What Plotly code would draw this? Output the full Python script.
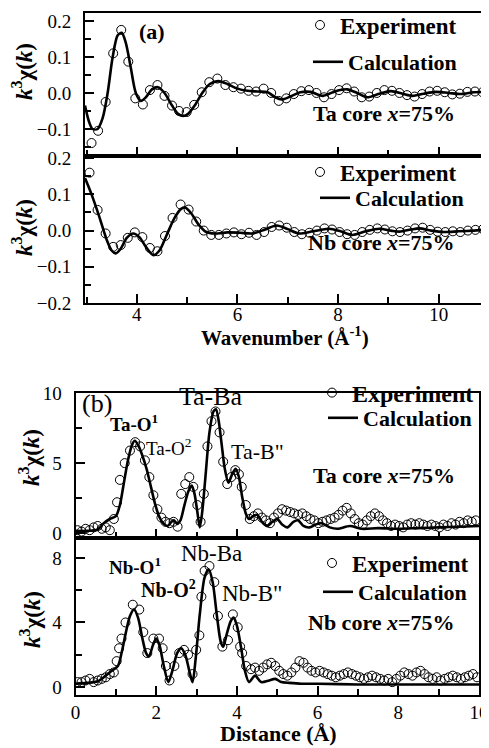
import plotly.graph_objects as go

# %% panel (a): k^3 chi(k), Ta core (top) and Nb core (bottom)
k_exp_ta = [3.10, 3.23, 3.38, 3.53, 3.69, 3.83, 3.97, 4.12, 4.26, 4.41, 4.55, 4.70, 4.84, 4.99,
            5.14, 5.29, 5.44, 5.60, 5.76, 5.92, 6.07, 6.22, 6.37, 6.52, 6.67, 6.82, 6.97, 7.12,
            7.27, 7.42, 7.57, 7.72, 7.87, 8.02, 8.17, 8.32, 8.47, 8.62, 8.77, 8.92, 9.07, 9.22,
            9.37, 9.52, 9.67, 9.82, 9.97, 10.12, 10.27, 10.42, 10.57, 10.72, 10.87]
chi_exp_ta = [-0.139, -0.105, -0.025, 0.11, 0.175, 0.087, -0.015, -0.032, 0.008, 0.022, -0.008,
              -0.035, -0.05, -0.053, -0.033, 0.002, 0.03, 0.04, 0.022, 0.016, 0.012, 0.006, 0.004,
              0.012, 0.0, -0.022, -0.015, -0.003, 0.005, 0.008, 0.0, -0.012, -0.003, 0.008, 0.013,
              0.004, -0.012, -0.01, 0.0, 0.008, 0.006, 0.0, -0.006, -0.01, -0.003, 0.004, 0.006,
              0.002, -0.004, -0.002, 0.003, 0.004, 0.002]
k_calc_ta = [2.97, 3.05, 3.12, 3.22, 3.32, 3.42, 3.52, 3.62, 3.70, 3.78, 3.88, 3.98, 4.08, 4.18,
             4.30, 4.42, 4.55, 4.70, 4.82, 4.92, 5.02, 5.15, 5.30, 5.45, 5.62, 5.80, 6.00, 6.20,
             6.40, 6.60, 6.75, 6.88, 7.05, 7.25, 7.45, 7.70, 7.95, 8.18, 8.38, 8.58, 8.80, 9.05,
             9.28, 9.48, 9.70, 9.95, 10.20, 10.45, 10.70, 10.92]
chi_calc_ta = [-0.035, -0.08, -0.10, -0.10, -0.07, 0.0, 0.10, 0.16, 0.167, 0.14, 0.07, 0.0,
               -0.022, -0.012, 0.010, 0.016, 0.0, -0.035, -0.058, -0.064, -0.058, -0.035, 0.0,
               0.025, 0.033, 0.025, 0.012, 0.006, 0.004, 0.002, -0.012, -0.018, -0.01, 0.002,
               0.003, -0.008, 0.005, 0.010, 0.0, -0.012, -0.003, 0.005, -0.002, -0.008, -0.002,
               0.003, 0.0, -0.003, 0.002, 0.003]

k_exp_nb = [3.06, 3.22, 3.38, 3.53, 3.68, 3.82, 3.96, 4.11, 4.26, 4.41, 4.56, 4.71, 4.87, 5.03,
            5.18, 5.33, 5.48, 5.63, 5.78, 5.93, 6.08, 6.23, 6.38, 6.53, 6.68, 6.83, 6.98, 7.13,
            7.28, 7.43, 7.58, 7.73, 7.88, 8.03, 8.18, 8.33, 8.48, 8.63, 8.78, 8.93, 9.08, 9.23,
            9.38, 9.53, 9.68, 9.83, 9.98, 10.13, 10.28, 10.43, 10.58, 10.73, 10.88]
chi_exp_nb = [0.16, 0.057, -0.008, -0.045, -0.04, -0.02, -0.005, -0.018, -0.048, -0.057, -0.015,
              0.035, 0.072, 0.058, 0.025, 0.0, -0.012, -0.012, -0.008, -0.005, -0.01, -0.006,
              -0.012, -0.004, 0.01, 0.014, 0.008, -0.004, -0.01, -0.006, 0.0, 0.006, 0.003,
              -0.004, -0.01, -0.012, -0.004, 0.002, 0.006, 0.003, -0.002, -0.004, 0.0, 0.006,
              0.008, 0.002, -0.003, -0.004, -0.002, -0.004, 0.0, 0.002, 0.004]
k_calc_nb = [2.97, 3.10, 3.25, 3.40, 3.50, 3.58, 3.68, 3.80, 3.93, 4.05, 4.18, 4.33, 4.45, 4.60,
             4.75, 4.88, 4.96, 5.08, 5.22, 5.38, 5.55, 5.80, 6.05, 6.30, 6.55, 6.78, 7.00, 7.22,
             7.50, 7.82, 8.05, 8.28, 8.55, 8.82, 9.05, 9.22, 9.45, 9.62, 9.85, 10.10, 10.40,
             10.70, 10.92]
chi_calc_nb = [0.145, 0.10, 0.04, -0.025, -0.055, -0.063, -0.05, -0.02, -0.008, -0.018, -0.045,
               -0.068, -0.055, -0.01, 0.035, 0.06, 0.064, 0.048, 0.018, -0.004, -0.008, -0.005,
               -0.006, -0.008, 0.003, 0.014, 0.004, -0.008, -0.002, 0.005, -0.002, -0.012,
               -0.002, 0.005, 0.0, -0.003, 0.003, 0.006, 0.0, -0.004, -0.002, 0.0, 0.002]

# %% panel (b): Fourier transform vs distance
r_exp_ta = [0.05, 0.15, 0.25, 0.35, 0.45, 0.55, 0.65, 0.75, 0.85, 0.95, 1.03, 1.10, 1.22, 1.35,
            1.48, 1.60, 1.72, 1.83, 1.93, 2.03, 2.13, 2.23, 2.33, 2.43, 2.53, 2.62, 2.72, 2.82,
            2.92, 3.02, 3.10, 3.18, 3.27, 3.37, 3.47, 3.57, 3.66, 3.76, 3.86, 3.96, 4.05, 4.12,
            4.22, 4.32, 4.42, 4.52, 4.62, 4.72, 4.82, 4.92, 5.02, 5.12, 5.22, 5.32, 5.42, 5.52,
            5.62, 5.72, 5.82, 5.92, 6.02, 6.12, 6.22, 6.32, 6.42, 6.52, 6.62, 6.72, 6.82, 6.92,
            7.02, 7.12, 7.22, 7.32, 7.42, 7.52, 7.62, 7.72, 7.82, 7.92, 8.02, 8.12, 8.22, 8.32,
            8.42, 8.52, 8.62, 8.72, 8.82, 8.92, 9.02, 9.12, 9.22, 9.32, 9.42, 9.52, 9.62, 9.72,
            9.82, 9.92]
ft_exp_ta = [0.2, 0.1, 0.3, 0.2, 0.4, 0.5, 0.3, 0.4, 0.2, 1.0, 2.2, 3.8, 5.0, 5.9, 6.5, 6.2, 5.2,
             4.0, 2.7, 1.7, 1.1, 0.8, 0.7, 0.8, 0.45, 2.8, 3.5, 4.0, 3.3, 2.0, 0.8, 2.8, 6.2, 8.0,
             8.7, 7.2, 5.1, 3.5, 4.0, 4.5, 4.2, 3.3, 2.0, 1.0, 1.2, 1.4, 1.1, 0.9, 0.7, 1.1, 1.4,
             1.7, 1.6, 1.5, 1.4, 1.3, 1.4, 1.2, 1.0, 0.9, 0.7, 0.8, 0.9, 1.0, 1.1, 1.3, 1.6, 1.8,
             1.4, 1.0, 0.7, 0.6, 0.9, 1.2, 1.4, 1.2, 0.9, 0.7, 0.5, 0.6, 0.5, 0.4, 0.6, 0.7, 0.6,
             0.7, 0.6, 0.5, 0.6, 0.5, 0.4, 0.6, 0.5, 0.7, 0.6, 0.8, 0.7, 0.9, 0.8, 0.9]
r_calc_ta = [0.00, 0.30, 0.55, 0.70, 0.85, 1.00, 1.10, 1.20, 1.30, 1.40, 1.47, 1.55, 1.65, 1.76,
             1.87, 1.97, 2.07, 2.17, 2.28, 2.38, 2.44, 2.52, 2.60, 2.70, 2.80, 2.88, 2.95, 3.02,
             3.08, 3.14, 3.22, 3.32, 3.42, 3.48, 3.55, 3.62, 3.70, 3.79, 3.88, 3.97, 4.05, 4.13,
             4.22, 4.30, 4.40, 4.50, 4.62, 4.75, 4.88, 5.00, 5.12, 5.25, 5.40, 5.52, 5.65, 5.80,
             5.95, 6.10, 6.30, 6.50, 6.80, 7.10, 7.50, 8.00, 8.50, 9.00, 9.50, 10.00]
ft_calc_ta = [0.15, 0.15, 0.25, 0.7, 1.0, 1.2, 2.0, 3.6, 5.2, 6.3, 6.6, 6.3, 5.6, 4.6, 3.3, 2.1,
              1.2, 0.7, 0.5, 0.8, 0.9, 0.65, 0.9, 2.0, 3.0, 3.4, 2.8, 1.5, 0.4, 1.5, 4.0, 7.2,
              8.7, 8.85, 8.0, 6.4, 4.6, 3.6, 4.2, 4.6, 4.0, 2.6, 1.4, 1.0, 1.2, 1.3, 0.8, 0.5,
              0.8, 1.0, 0.6, 0.4, 0.8, 0.9, 0.5, 0.4, 0.6, 0.7, 0.4, 0.3, 0.5, 0.3, 0.35, 0.3,
              0.35, 0.4, 0.45, 0.5]

r_exp_nb = [0.05, 0.15, 0.25, 0.35, 0.45, 0.55, 0.65, 0.75, 0.85, 0.95, 1.02, 1.08, 1.14, 1.24,
            1.42, 1.58, 1.68, 1.78, 1.93, 2.07, 2.16, 2.24, 2.33, 2.45, 2.57, 2.69, 2.79, 2.90,
            2.99, 3.07, 3.12, 3.20, 3.32, 3.44, 3.53, 3.64, 3.78, 3.90, 4.02, 4.08, 4.13, 4.23,
            4.35, 4.45, 4.55, 4.65, 4.75, 4.85, 4.95, 5.05, 5.15, 5.25, 5.35, 5.45, 5.55, 5.65,
            5.75, 5.85, 5.95, 6.05, 6.15, 6.25, 6.35, 6.45, 6.55, 6.65, 6.75, 6.85, 6.95, 7.05,
            7.15, 7.25, 7.35, 7.45, 7.55, 7.65, 7.75, 7.85, 7.95, 8.05, 8.15, 8.25, 8.35, 8.45,
            8.55, 8.65, 8.75, 8.85, 8.95, 9.05, 9.15, 9.25, 9.35, 9.45, 9.55, 9.65, 9.75, 9.85,
            9.95]
ft_exp_nb = [0.3, 0.3, 0.4, 0.5, 0.3, 0.4, 0.5, 0.6, 0.8, 0.9, 1.6, 2.4, 3.0, 4.0, 5.1, 4.8, 3.4,
             2.1, 3.0, 3.0, 2.4, 1.3, 0.4, 1.3, 2.1, 2.3, 2.0, 0.8, 2.3, 3.2, 5.6, 7.2, 7.5, 6.5,
             4.4, 2.5, 2.9, 4.5, 3.7, 2.5, 2.1, 1.3, 1.1, 1.2, 1.0, 1.2, 1.4, 1.5, 1.3, 1.0, 0.8,
             0.7, 0.9, 1.2, 1.6, 1.5, 1.2, 1.0, 0.9, 1.0, 0.9, 0.8, 0.7, 0.6, 0.7, 0.8, 0.9, 0.8,
             0.7, 0.6, 0.5, 0.6, 0.7, 0.6, 0.5, 0.4, 0.5, 0.3, 0.5, 0.7, 0.9, 0.8, 0.7, 0.9, 1.0,
             0.8, 0.6, 0.5, 0.6, 0.4, 0.5, 0.6, 0.7, 0.6, 0.5, 0.6, 0.7, 0.8, 0.6]
r_calc_nb = [0.00, 0.30, 0.55, 0.75, 0.90, 1.05, 1.15, 1.25, 1.35, 1.45, 1.55, 1.65, 1.75, 1.82,
             1.92, 2.00, 2.08, 2.18, 2.30, 2.40, 2.52, 2.62, 2.72, 2.82, 2.90, 2.98, 3.08, 3.20,
             3.30, 3.40, 3.50, 3.60, 3.66, 3.75, 3.85, 3.92, 4.00, 4.10, 4.20, 4.30, 4.45, 4.60,
             4.80, 4.95, 5.10, 5.30, 5.60, 6.00, 7.00, 8.00, 9.00, 10.00]
ft_calc_nb = [0.2, 0.25, 0.35, 0.7, 1.0, 1.3, 2.2, 3.4, 4.4, 4.8, 4.3, 3.1, 2.1, 1.9, 2.6, 3.0,
              2.6, 1.4, 0.3, 1.0, 2.1, 2.4, 2.0, 1.0, 0.3, 1.8, 4.5, 6.8, 7.3, 6.5, 4.5, 2.8, 2.5,
              3.3, 4.1, 4.3, 3.8, 2.5, 1.0, 0.3, 0.7, 0.3, 0.4, 0.5, 0.3, 0.25, 0.2, 0.2, 0.15,
              0.15, 0.15, 0.15]

# the page body has an 8px margin, so the figure is made smaller and shifted
PAD = 8
W, H = 489 - PAD, 748 - PAD
SERIF = 'Liberation Serif, Times New Roman, serif'


def fx(x):
    return (x - PAD) / W


def fy(y):
    return 1 - (y - PAD) / H


# x, y data, axis suffix, legend ids (experiment, calculation)
panels = [
    (k_exp_ta, chi_exp_ta, k_calc_ta, chi_calc_ta, '', 'legend', 'legend2'),
    (k_exp_nb, chi_exp_nb, k_calc_nb, chi_calc_nb, '2', 'legend3', 'legend4'),
    (r_exp_ta, ft_exp_ta, r_calc_ta, ft_calc_ta, '3', 'legend5', 'legend6'),
    (r_exp_nb, ft_exp_nb, r_calc_nb, ft_calc_nb, '4', 'legend7', 'legend8'),
]

fig = go.Figure()
for xe, ye, xc, yc, n, leg_e, leg_c in panels:
    fig.add_trace(go.Scatter(x=xe, y=ye, mode='markers', name='<b>Experiment</b>',
                             xaxis='x' + n, yaxis='y' + n, legend=leg_e,
                             marker=dict(symbol='circle-open', size=9, color='black',
                                         line=dict(width=1, color='black'))))
    fig.add_trace(go.Scatter(x=xc, y=yc, mode='lines', name='<b>Calculation</b>',
                             xaxis='x' + n, yaxis='y' + n, legend=leg_c,
                             line=dict(color='black', width=2.6, shape='spline', smoothing=0.8)))

tickfont = dict(family=SERIF, size=19, color='black')


def xax(domain, rng, anchor, labels, standoff):
    return dict(domain=domain, range=rng, anchor=anchor, showline=True, linewidth=2,
                linecolor='black', mirror=True, ticks='inside', ticklen=9, tickwidth=2,
                tickcolor='black', dtick=2, tick0=0, showticklabels=labels, tickfont=tickfont,
                ticklabelstandoff=standoff,
                minor=dict(dtick=1, ticks='inside', ticklen=6, tickwidth=2, tickcolor='black'),
                showgrid=False, zeroline=False, automargin=False)


def yax(domain, rng, anchor, dtick, mdtick, fmt):
    return dict(domain=domain, range=rng, anchor=anchor, showline=True, linewidth=2,
                linecolor='black', mirror=True, ticks='inside', ticklen=9, tickwidth=2,
                tickcolor='black', dtick=dtick, tick0=0, tickformat=fmt, tickfont=tickfont,
                ticklabelstandoff=8,
                minor=dict(dtick=mdtick, ticks='inside', ticklen=6, tickwidth=2, tickcolor='black'),
                showgrid=False, zeroline=False, automargin=False)


xa = [fx(85), fx(485)]
xb = [fx(75.5), fx(479)]


def leg(x_end, y_mid, size):
    return dict(bgcolor='rgba(0,0,0,0)', borderwidth=0,
                font=dict(family=SERIF, size=size, color='black'),
                xanchor='right', yanchor='middle', x=fx(x_end + 7), y=fy(y_mid))


fig.update_layout(
    width=W, height=H, margin=dict(l=0, r=0, t=0, b=0, autoexpand=False),
    paper_bgcolor='white', plot_bgcolor='white', showlegend=True,
    xaxis=xax(xa, [2.97, 10.92], 'y', False, 0),
    yaxis=yax([fy(156), fy(13)], [-0.175, 0.222], 'x', 0.1, 0.05, '.1f'),
    xaxis2=xax(xa, [2.97, 10.92], 'y2', True, -7),
    yaxis2=yax([fy(303), fy(156)], [-0.2, 0.206], 'x2', 0.1, 0.05, '.1f'),
    xaxis3=xax(xb, [0, 10], 'y3', False, 0),
    yaxis3=yax([fy(538), fy(393)], [-0.36, 10.02], 'x3', 5, 2.5, 'd'),
    xaxis4=xax(xb, [0, 10], 'y4', True, -1),
    yaxis4=yax([fy(695), fy(538)], [-0.5, 9.24], 'x4', 4, 2, 'd'),
    legend=leg(455, 25, 23),
    legend2=leg(455, 62, 22),
    legend3=leg(455, 172, 23),
    legend4=leg(462, 198, 22),
    legend5=leg(472, 393, 24),
    legend6=leg(470, 418, 22),
    legend7=leg(467, 563, 23),
    legend8=leg(465, 592, 22),
)

ytitle = '<b><i>k</i><sup>3</sup>χ(<i>k</i>)</b>'


def ann(text, x, y, size=19, angle=0, xanchor='center'):
    fig.add_annotation(text=text, x=fx(x), y=fy(y), xref='paper', yref='paper',
                       showarrow=False, textangle=angle, xanchor=xanchor, yanchor='middle',
                       font=dict(family=SERIF, size=size, color='black'))


# axis titles
ann(ytitle, 22, 72, 23, -90)
ann(ytitle, 22, 228, 23, -90)
ann(ytitle, 29, 458, 23, -90)
ann(ytitle, 30, 620, 23, -90)
ann('<b>Wavenumber (Å<sup>-1</sup>)</b>', 285, 336, 21)
ann('<b>Distance (Å)</b>', 278, 733, 22)

# panel labels and notes
ann('<b>(a)</b>', 152, 31, 22)
ann('<b>Ta core <i>x</i>=75%</b>', 457, 113, 22, xanchor='right')
ann('<b>Nb core <i>x</i>=75%</b>', 457, 242, 22, xanchor='right')
ann('(b)', 97, 403, 26)
ann('<b>Ta core <i>x</i>=75%</b>', 457, 475, 22, xanchor='right')
ann('<b>Nb core <i>x</i>=75%</b>', 457, 622, 22, xanchor='right')

# peak labels
ann('<b>Ta-O<sup>1</sup></b>', 134, 423, 19)
ann('Ta-O<sup>2</sup>', 168, 447, 19)
ann('Ta-Ba', 211, 397, 26)
ann('Ta-B"', 257, 451, 22)
ann('<b>Nb-O<sup>1</sup></b>', 135, 566, 19)
ann('<b>Nb-O<sup>2</sup></b>', 168, 589, 20)
ann('Nb-Ba', 211, 553, 23)
ann('Nb-B"', 252, 593, 23)

fig.write_html('out.html')
